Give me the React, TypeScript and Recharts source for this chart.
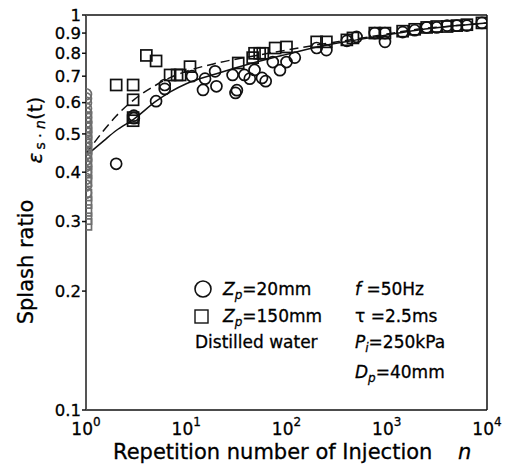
import React from 'react';
import { ComposedChart, Scatter, Line, XAxis, YAxis } from 'recharts';

const FONT = '"DejaVu Sans", "Liberation Sans", sans-serif';

// axis ticks
const xTicks = [1, 10, 100, 1000, 10000];
const xTickExponents = ['0', '1', '2', '3', '4'];
const yTicks = [0.1, 0.2, 0.3, 0.4, 0.5, 0.6, 0.7, 0.8, 0.9, 1];
const yTickLabels = ['0.1', '0.2', '0.3', '0.4', '0.5', '0.6', '0.7', '0.8', '0.9', '1'];
const xMinorTicks: number[] = [];
[1, 10, 100, 1000].forEach((d) => {
  for (let k = 2; k <= 9; k++) xMinorTicks.push(d * k);
});

// Zp = 20mm (circles)
const circlesFirst = [
  { n: 1, v: 0.63 }, { n: 1, v: 0.615 }, { n: 1, v: 0.6 }, { n: 1, v: 0.58 },
  { n: 1, v: 0.565 }, { n: 1, v: 0.55 }, { n: 1, v: 0.535 }, { n: 1, v: 0.52 },
  { n: 1, v: 0.505 }, { n: 1, v: 0.49 }, { n: 1, v: 0.475 }, { n: 1, v: 0.46 },
  { n: 1, v: 0.445 }, { n: 1, v: 0.43 }, { n: 1, v: 0.415 }, { n: 1, v: 0.4 },
  { n: 1, v: 0.385 }, { n: 1, v: 0.37 }, { n: 1, v: 0.355 },
];
const circles20 = [
  { n: 2, v: 0.42 }, { n: 3, v: 0.548 }, { n: 3, v: 0.556 }, { n: 5, v: 0.605 },
  { n: 6.1, v: 0.65 }, { n: 6.1, v: 0.665 }, { n: 11.4, v: 0.7 }, { n: 14.7, v: 0.646 },
  { n: 15.4, v: 0.69 }, { n: 19.4, v: 0.72 }, { n: 20, v: 0.66 }, { n: 29, v: 0.705 },
  { n: 31, v: 0.635 }, { n: 32, v: 0.645 }, { n: 38, v: 0.705 }, { n: 43, v: 0.69 },
  { n: 48, v: 0.726 }, { n: 57, v: 0.693 }, { n: 62, v: 0.68 }, { n: 73, v: 0.76 },
  { n: 86, v: 0.725 }, { n: 100, v: 0.76 }, { n: 121, v: 0.78 }, { n: 200, v: 0.825 },
  { n: 250, v: 0.815 }, { n: 400, v: 0.86 }, { n: 500, v: 0.88 }, { n: 760, v: 0.9 },
  { n: 960, v: 0.855 }, { n: 960, v: 0.9 }, { n: 1440, v: 0.905 }, { n: 1900, v: 0.915 },
  { n: 2500, v: 0.93 }, { n: 3150, v: 0.93 }, { n: 4000, v: 0.94 }, { n: 5000, v: 0.94 },
  { n: 6300, v: 0.94 }, { n: 8900, v: 0.955 },
];

// Zp = 150mm (squares)
const squaresFirst = [
  { n: 1, v: 0.55 }, { n: 1, v: 0.52 }, { n: 1, v: 0.5 }, { n: 1, v: 0.48 },
  { n: 1, v: 0.46 }, { n: 1, v: 0.44 }, { n: 1, v: 0.42 }, { n: 1, v: 0.4 },
  { n: 1, v: 0.38 }, { n: 1, v: 0.35 }, { n: 1, v: 0.335 }, { n: 1, v: 0.32 },
  { n: 1, v: 0.305 }, { n: 1, v: 0.295 },
];
const squares150 = [
  { n: 2, v: 0.665 }, { n: 2.95, v: 0.665 }, { n: 2.95, v: 0.61 }, { n: 2.95, v: 0.55 },
  { n: 2.95, v: 0.54 }, { n: 4, v: 0.79 }, { n: 5, v: 0.765 }, { n: 6.9, v: 0.705 },
  { n: 8.1, v: 0.705 }, { n: 8.7, v: 0.705 }, { n: 10.9, v: 0.74 }, { n: 33, v: 0.756 },
  { n: 46, v: 0.78 }, { n: 48, v: 0.8 }, { n: 54, v: 0.8 }, { n: 58, v: 0.8 },
  { n: 77, v: 0.825 }, { n: 100, v: 0.83 }, { n: 200, v: 0.855 }, { n: 250, v: 0.855 },
  { n: 400, v: 0.865 }, { n: 460, v: 0.875 }, { n: 760, v: 0.9 }, { n: 960, v: 0.9 },
  { n: 1440, v: 0.91 }, { n: 1900, v: 0.92 }, { n: 2500, v: 0.93 }, { n: 3150, v: 0.935 },
  { n: 4000, v: 0.935 }, { n: 5000, v: 0.94 }, { n: 6300, v: 0.945 }, { n: 8900, v: 0.955 },
];

// fitted curves
const fit20 = [
  { n: 1, v: 0.44 }, { n: 1.5, v: 0.48 }, { n: 2, v: 0.51 }, { n: 3, v: 0.545 },
  { n: 5, v: 0.605 }, { n: 7, v: 0.64 }, { n: 10, v: 0.67 }, { n: 20, v: 0.71 },
  { n: 50, v: 0.76 }, { n: 100, v: 0.795 }, { n: 200, v: 0.83 }, { n: 500, v: 0.865 },
  { n: 1000, v: 0.89 }, { n: 2000, v: 0.915 }, { n: 5000, v: 0.94 }, { n: 10000, v: 0.955 },
];
const fit150 = [
  { n: 1, v: 0.445 }, { n: 1.5, v: 0.51 }, { n: 2, v: 0.555 }, { n: 3, v: 0.61 },
  { n: 5, v: 0.665 }, { n: 7, v: 0.695 }, { n: 10, v: 0.72 }, { n: 20, v: 0.755 },
  { n: 50, v: 0.79 }, { n: 100, v: 0.815 }, { n: 200, v: 0.84 }, { n: 500, v: 0.87 },
  { n: 1000, v: 0.895 }, { n: 2000, v: 0.92 }, { n: 5000, v: 0.94 }, { n: 10000, v: 0.955 },
];

const INK = '#111';
const GREY = '#6e6e6e';

function CircleMark({ cx, cy, color = INK }: any) {
  return <circle cx={cx} cy={cy} r={5.5} fill="none" stroke={color} strokeWidth={1.7} />;
}
function SquareMark({ cx, cy, color = INK }: any) {
  return <rect x={cx - 5.5} y={cy - 5.5} width={11} height={11} fill="none" stroke={color} strokeWidth={1.7} />;
}

function XTick({ x, y, payload }: any) {
  const i = xTicks.findIndex((t) => Math.abs(t - payload.value) < 1e-6 * t);
  return (
    <text x={x} y={y + 25} textAnchor="middle" fontFamily={FONT} fontSize={17} fill="#000" stroke="#000" strokeWidth={0.3}>
      10
      <tspan dy={-9} fontSize={12}>{xTickExponents[i]}</tspan>
    </text>
  );
}

const axisLine = { stroke: INK, strokeWidth: 1.5 };

export default function App() {
  return (
    <div style={{ position: 'absolute', left: 0, top: 0, width: 510, height: 472, background: '#fff' }}>
      <ComposedChart width={510} height={472} margin={{ top: 15, right: 23, bottom: 0, left: 0 }}>
        <XAxis
          xAxisId="main"
          dataKey="n"
          type="number"
          scale="log"
          domain={[1, 10000]}
          allowDataOverflow
          ticks={xTicks}
          interval={0}
          height={62}
          tickSize={0}
          tickMargin={0}
          tickLine={false}
          axisLine={axisLine}
          tick={<XTick />}
        />
        <XAxis xAxisId="btmMaj" type="number" scale="log" domain={[1, 10000]} allowDataOverflow ticks={xTicks} interval={0}
          mirror tick={false} tickSize={6} tickLine={axisLine} axisLine={false} />
        <XAxis xAxisId="btmMin" type="number" scale="log" domain={[1, 10000]} allowDataOverflow ticks={xMinorTicks} interval={0}
          mirror tick={false} tickSize={3} tickLine={{ stroke: INK, strokeWidth: 1 }} axisLine={false} />
        <XAxis xAxisId="topMaj" orientation="top" type="number" scale="log" domain={[1, 10000]} allowDataOverflow ticks={xTicks} interval={0}
          mirror tick={false} tickSize={6} tickLine={axisLine} axisLine={axisLine} />
        <XAxis xAxisId="topMin" orientation="top" type="number" scale="log" domain={[1, 10000]} allowDataOverflow ticks={xMinorTicks} interval={0}
          mirror tick={false} tickSize={3} tickLine={{ stroke: INK, strokeWidth: 1 }} axisLine={false} />
        <YAxis
          yAxisId="main"
          dataKey="v"
          type="number"
          scale="log"
          domain={[0.1, 1]}
          allowDataOverflow
          ticks={yTicks}
          interval={0}
          width={86}
          tickSize={4}
          tickMargin={1}
          tickLine={axisLine}
          axisLine={{ stroke: '#555', strokeWidth: 2 }}
          tickFormatter={(v: number) => yTickLabels[yTicks.findIndex((t) => Math.abs(t - v) < 1e-6)]}
          tick={{ fill: '#000', fontSize: 16.5, fontFamily: FONT, stroke: '#000', strokeWidth: 0.3 }}
        />
        <YAxis yAxisId="right" orientation="right" type="number" scale="log" domain={[0.1, 1]} allowDataOverflow ticks={yTicks} interval={0}
          mirror tick={false} tickSize={5} tickLine={axisLine} axisLine={axisLine} />

        <Line xAxisId="main" yAxisId="main" data={fit150} dataKey="v" type="monotone" stroke={INK}
          strokeWidth={1.5} strokeDasharray="9 5" dot={false} isAnimationActive={false} />
        <Line xAxisId="main" yAxisId="main" data={fit20} dataKey="v" type="monotone" stroke={INK}
          strokeWidth={1.5} dot={false} isAnimationActive={false} />

        <Scatter xAxisId="main" yAxisId="main" data={squaresFirst}
          shape={(p: any) => <SquareMark {...p} color={GREY} />} isAnimationActive={false} />
        <Scatter xAxisId="main" yAxisId="main" data={circlesFirst}
          shape={(p: any) => <CircleMark {...p} color={GREY} />} isAnimationActive={false} />
        <Scatter xAxisId="main" yAxisId="main" data={squares150}
          shape={(p: any) => <SquareMark {...p} />} isAnimationActive={false} />
        <Scatter xAxisId="main" yAxisId="main" data={circles20}
          shape={(p: any) => <CircleMark {...p} />} isAnimationActive={false} />
      </ComposedChart>

      <svg width={510} height={472} style={{ position: 'absolute', left: 0, top: 0, pointerEvents: 'none' }}>
        <g fontFamily={FONT} fill="#000" stroke="#000" strokeWidth={0.3}>
          {/* axis titles */}
          <text x={33} y={262} fontSize={21} textAnchor="middle" transform="rotate(-90 33 262)">Splash ratio</text>
          <text x={42} y={130} fontSize={20} textAnchor="middle" transform="rotate(-90 42 130)">
            <tspan fontStyle="italic">ε</tspan>
            <tspan fontSize={14} dy={3} dx={3}>s · </tspan>
            <tspan fontSize={14} fontStyle="italic">n</tspan>
            <tspan dy={-3}>(t)</tspan>
          </text>
          <text x={113} y={459} fontSize={21}>Repetition number of Injection</text>
          <text x={458} y={459} fontSize={21} fontStyle="italic">n</text>

          {/* legend */}
          <circle cx={203} cy={289} r={8} fill="none" stroke={INK} strokeWidth={1.6} />
          <rect x={195} y={310} width={13} height={13} fill="none" stroke={INK} strokeWidth={1.4} />
          <text x={223} y={295} fontSize={17}>
            <tspan fontStyle="italic">Z</tspan>
            <tspan fontStyle="italic" fontSize={12} dy={4}>p</tspan>
            <tspan dy={-4}>=20mm</tspan>
          </text>
          <text x={223} y={322} fontSize={17}>
            <tspan fontStyle="italic">Z</tspan>
            <tspan fontStyle="italic" fontSize={12} dy={4}>p</tspan>
            <tspan dy={-4}>=150mm</tspan>
          </text>
          <text x={195} y={348} fontSize={17}>Distilled water</text>

          <text x={355} y={295} fontSize={17}>
            <tspan fontStyle="italic">f</tspan> =50Hz
          </text>
          <text x={355} y={322} fontSize={17}>τ =2.5ms</text>
          <text x={355} y={348} fontSize={17}>
            <tspan fontStyle="italic">P</tspan>
            <tspan fontStyle="italic" fontSize={12} dy={4}>i</tspan>
            <tspan dy={-4}>=250kPa</tspan>
          </text>
          <text x={355} y={378} fontSize={17}>
            <tspan fontStyle="italic">D</tspan>
            <tspan fontStyle="italic" fontSize={12} dy={4}>p</tspan>
            <tspan dy={-4}>=40mm</tspan>
          </text>
        </g>
      </svg>
    </div>
  );
}
